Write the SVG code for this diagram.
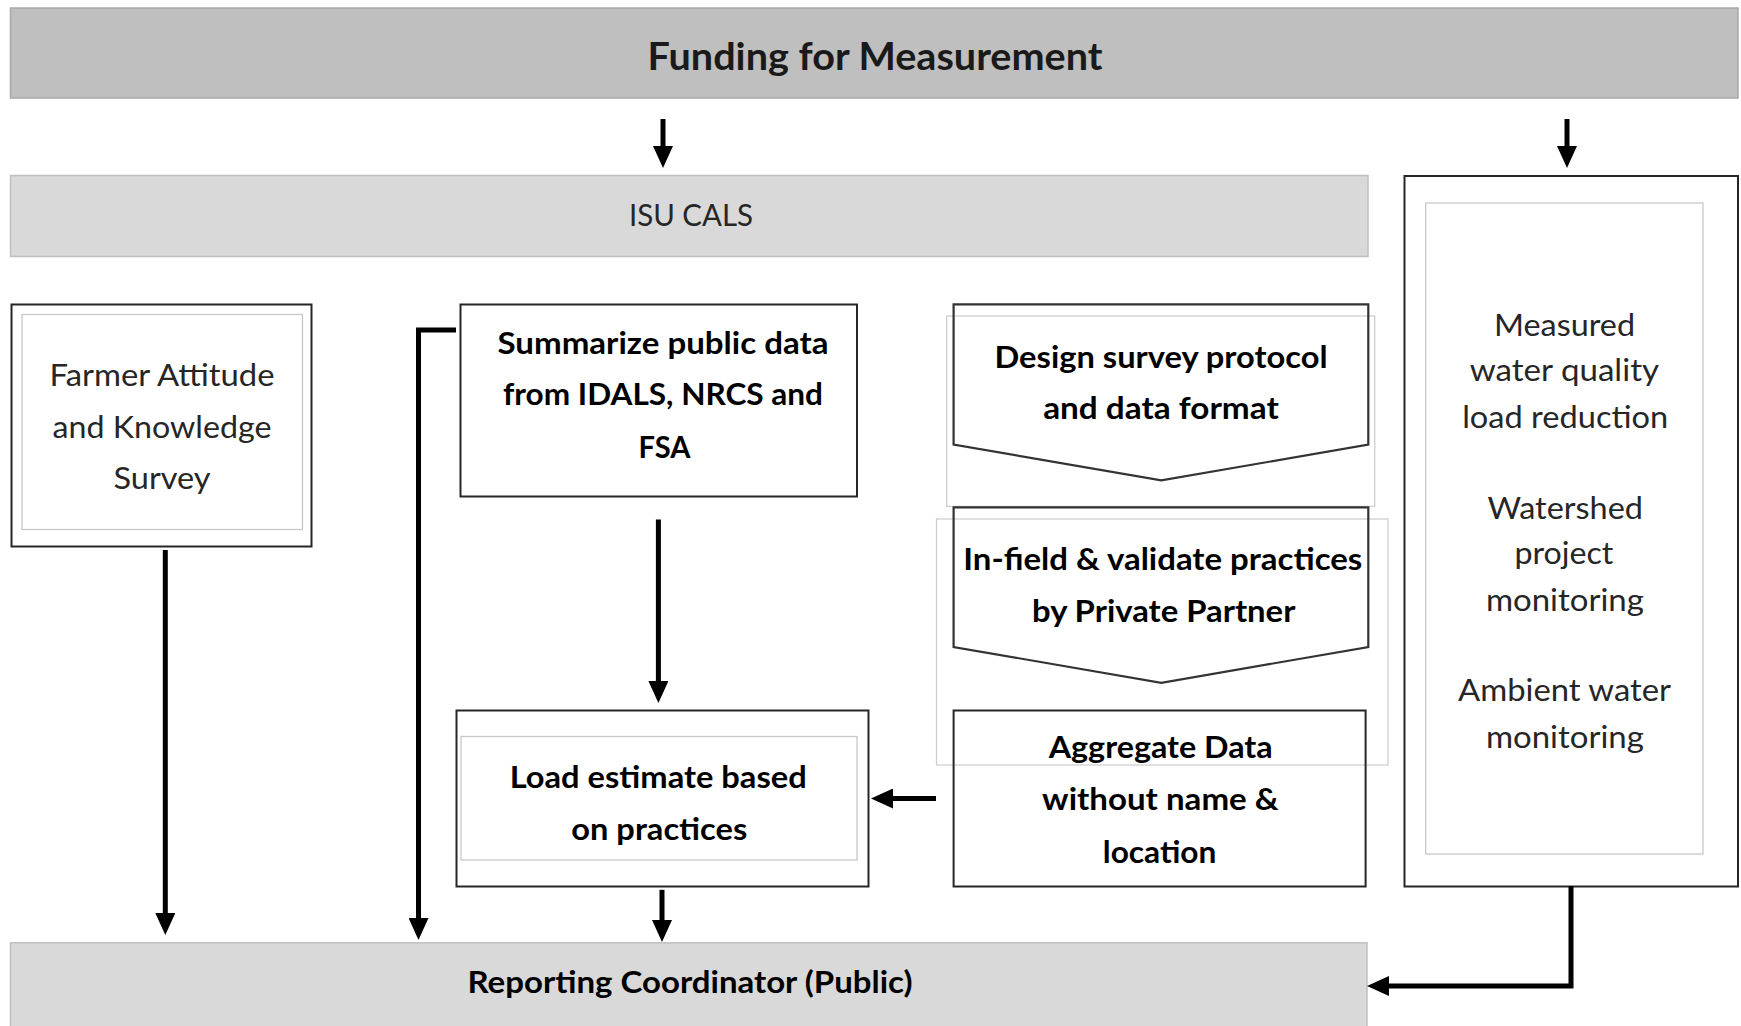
<svg xmlns="http://www.w3.org/2000/svg" width="1741" height="1026" viewBox="0 0 1741 1026">
<defs>
<style>
.reg{font-family:Lato,"Liberation Sans",sans-serif;font-size:31px;fill:#262626;text-anchor:middle}
.bold{font-family:Lato,"Liberation Sans",sans-serif;font-size:31px;font-weight:bold;fill:#000;text-anchor:middle}
.title{font-family:Lato,"Liberation Sans",sans-serif;font-size:38px;font-weight:bold;fill:#1a1a1a;text-anchor:middle}
.box{fill:#fff;stroke:#262626;stroke-width:2}
.inner{fill:none;stroke:#c8c8c8;stroke-width:1.3}
.chev{fill:none;stroke:#333;stroke-width:2.2}
.faint{fill:none;stroke:#cfcfcf;stroke-width:1.3}
.conn{fill:none;stroke:#000;stroke-width:5}
</style>
<marker id="ah" markerUnits="userSpaceOnUse" markerWidth="22" markerHeight="20" refX="0" refY="10" orient="auto">
<path d="M0,0 L22,10 L0,20 Z" fill="#000"/>
</marker>
</defs>
<rect width="1741" height="1026" fill="#fff"/>

<g id="funding">
<rect x="10.5" y="8" width="1727.5" height="90" fill="#bfbfbf" stroke="#a8a8a8" stroke-width="1.5"/>
<text class="title" x="875" y="70" textLength="455" lengthAdjust="spacingAndGlyphs">Funding for Measurement</text>
</g>

<g id="isu-cals">
<rect x="10.5" y="175.5" width="1357.5" height="81" fill="#d9d9d9" stroke="#bfbfbf" stroke-width="1.5"/>
<text class="reg" x="691" y="226" textLength="124" lengthAdjust="spacingAndGlyphs">ISU CALS</text>
</g>

<g id="farmer-survey">
<rect class="box" x="11.5" y="304.5" width="300" height="242"/>
<rect class="inner" x="22" y="314.5" width="280.5" height="215"/>
<text class="reg" x="162" y="386" textLength="225" lengthAdjust="spacingAndGlyphs">Farmer Attitude</text>
<text class="reg" x="162" y="437.5" textLength="219" lengthAdjust="spacingAndGlyphs">and Knowledge</text>
<text class="reg" x="162" y="489" textLength="97" lengthAdjust="spacingAndGlyphs">Survey</text>
</g>

<g id="summarize">
<rect class="box" x="460.5" y="304.5" width="396.5" height="192"/>
<text class="bold" x="663" y="353.6" textLength="331" lengthAdjust="spacingAndGlyphs">Summarize public data</text>
<text class="bold" x="663" y="405.4" textLength="320" lengthAdjust="spacingAndGlyphs">from IDALS, NRCS and</text>
<text class="bold" x="664.5" y="458" textLength="52" lengthAdjust="spacingAndGlyphs">FSA</text>
</g>

<g id="design-survey">
<rect class="faint" x="946.7" y="316" width="428" height="190.4"/>
<path class="chev" d="M953.6,304.3 H1368.3 V444.6 L1161.3,480.4 L953.6,444.6 Z"/>
<text class="bold" x="1161" y="367.9" textLength="333" lengthAdjust="spacingAndGlyphs">Design survey protocol</text>
<text class="bold" x="1161" y="418.6" textLength="235.6" lengthAdjust="spacingAndGlyphs">and data format</text>
</g>

<g id="in-field">
<rect class="faint" x="936.5" y="519" width="451.5" height="246"/>
<path class="chev" d="M953.6,507.4 H1368.3 V647 L1161.3,682.8 L953.6,647 Z"/>
<text class="bold" x="1162.8" y="570.4" textLength="399" lengthAdjust="spacingAndGlyphs">In-field &amp; validate practices</text>
<text class="bold" x="1163.7" y="622.4" textLength="263.4" lengthAdjust="spacingAndGlyphs">by Private Partner</text>
</g>

<g id="aggregate">
<rect fill="none" stroke="#262626" stroke-width="2" x="953.6" y="710.5" width="412" height="176"/>
<text class="bold" x="1160.7" y="758.3" textLength="224" lengthAdjust="spacingAndGlyphs">Aggregate Data</text>
<text class="bold" x="1160.4" y="810.3" textLength="236.6" lengthAdjust="spacingAndGlyphs">without name &amp;</text>
<text class="bold" x="1159.6" y="862.8" textLength="113.7" lengthAdjust="spacingAndGlyphs">location</text>
</g>

<g id="load-estimate">
<rect class="box" x="456.5" y="710.5" width="412" height="176"/>
<rect class="inner" x="461" y="736.5" width="396" height="123.5"/>
<text class="bold" x="658.2" y="787.5" textLength="297" lengthAdjust="spacingAndGlyphs">Load estimate based</text>
<text class="bold" x="659.3" y="839.5" textLength="176" lengthAdjust="spacingAndGlyphs">on practices</text>
</g>

<g id="monitoring">
<rect class="box" x="1404.5" y="176" width="333.5" height="710.5"/>
<rect class="inner" x="1425.7" y="203" width="277.3" height="651"/>
<text class="reg" x="1564.5" y="335.7" textLength="141" lengthAdjust="spacingAndGlyphs">Measured</text>
<text class="reg" x="1564.4" y="381.4" textLength="189.4" lengthAdjust="spacingAndGlyphs">water quality</text>
<text class="reg" x="1565.2" y="427.5" textLength="206" lengthAdjust="spacingAndGlyphs">load reduction</text>
<text class="reg" x="1565.2" y="518.6" textLength="155.6" lengthAdjust="spacingAndGlyphs">Watershed</text>
<text class="reg" x="1563.9" y="563.7" textLength="99" lengthAdjust="spacingAndGlyphs">project</text>
<text class="reg" x="1564.9" y="610.7" textLength="158" lengthAdjust="spacingAndGlyphs">monitoring</text>
<text class="reg" x="1564.5" y="701.3" textLength="213" lengthAdjust="spacingAndGlyphs">Ambient water</text>
<text class="reg" x="1564.9" y="748.2" textLength="158" lengthAdjust="spacingAndGlyphs">monitoring</text>
</g>

<g id="reporting">
<rect x="10.5" y="942.8" width="1356.5" height="90" fill="#d9d9d9" stroke="#bfbfbf" stroke-width="1.5"/>
<text class="bold" x="690" y="993" textLength="445" lengthAdjust="spacingAndGlyphs">Reporting Coordinator (Public)</text>
</g>

<g id="connectors">
<path class="conn" d="M663,119 V146" marker-end="url(#ah)"/>
<path class="conn" d="M1567,119 V146" marker-end="url(#ah)"/>
<path class="conn" d="M165.3,550 V913" marker-end="url(#ah)"/>
<path class="conn" d="M456,330 H418.5 V918" marker-end="url(#ah)"/>
<path class="conn" d="M658.4,519.5 V681" marker-end="url(#ah)"/>
<path class="conn" d="M662,889.8 V920" marker-end="url(#ah)"/>
<path class="conn" d="M936,798.5 H893" marker-end="url(#ah)"/>
<path class="conn" d="M1571,886 V986 H1389" marker-end="url(#ah)"/>
</g>
</svg>
